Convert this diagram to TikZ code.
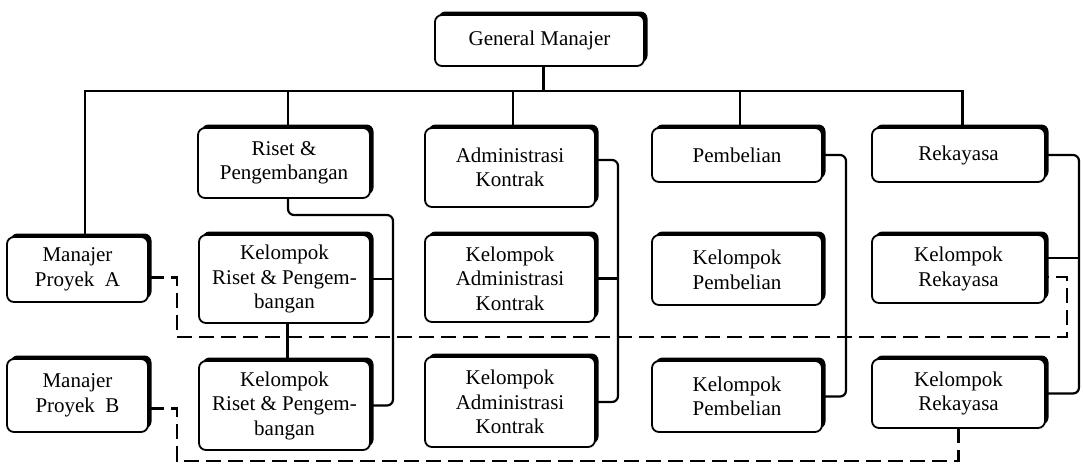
\documentclass[tikz,border=0pt]{standalone}
\usepackage{fontspec}
\setmainfont{Liberation Serif}
\usetikzlibrary{shadows,calc}
\begin{document}
\begin{tikzpicture}[x=1pt,y=-1pt,
  box/.style={draw=black, line width=1.8pt, fill=white, rounded corners=7pt,
    general shadow={fill=black, shadow xshift=3.5pt, shadow yshift=3.5pt},
    align=center, inner sep=0pt, font=\fontsize{21}{24.5}\selectfont},
  ln/.style={line width=2.2pt},
  conn/.style={line width=2.2pt, rounded corners=6pt},
  dashconn/.style={line width=2.2pt, dash pattern=on 15pt off 7pt}]
\useasboundingbox (0,0) rectangle (1083,464);
% boxes
\node[box, minimum width=209pt, minimum height=51pt] (gm) at (539.5,40.5) {General Manajer};
\node[box, minimum width=172pt, minimum height=70pt] (riset) at (284,163) {Riset \&\\Pengembangan};
\node[box, minimum width=170pt, minimum height=79pt] (admin) at (510,167.5) {Administrasi\\Kontrak};
\node[box, minimum width=170pt, minimum height=54pt] (pemb) at (737,155) {Pembelian};
\node[box, minimum width=173pt, minimum height=54pt] (reka) at (958.5,155) {Rekayasa};
\node[box, minimum width=141pt, minimum height=65pt] (mpa) at (77.5,269.5) {Manajer\\Proyek~ A};
\node[box, minimum width=141pt, minimum height=73pt] (mpb) at (77.5,395.5) {Manajer\\Proyek~ B};
\node[box, minimum width=171pt, minimum height=88pt] (kra) at (284.5,279) {Kelompok\\Riset \& Pengem-\\bangan};
\node[box, minimum width=171pt, minimum height=89pt] (krb) at (284.5,405.5) {Kelompok\\Riset \& Pengem-\\bangan};
\node[box, minimum width=170pt, minimum height=87pt] (kaa) at (510,278.5) {Kelompok\\Administrasi\\Kontrak};
\node[box, minimum width=170pt, minimum height=90pt] (kab) at (510,402) {Kelompok\\Administrasi\\Kontrak};
\node[box, minimum width=170pt, minimum height=70pt] (kpa) at (737,270) {Kelompok\\Pembelian};
\node[box, minimum width=170pt, minimum height=71pt] (kpb) at (737,396.5) {Kelompok\\Pembelian};
\node[box, minimum width=173pt, minimum height=68pt] (kka) at (958.5,269) {Kelompok\\Rekayasa};
\node[box, minimum width=173pt, minimum height=69pt] (kkb) at (958.5,393.5) {Kelompok\\Rekayasa};
% coordinates
\coordinate (bus) at (85,91);
\coordinate (gmv) at ($(gm.south)+(4,0)$);
\coordinate (rv) at ($(riset.north)+(4,0)$);
\coordinate (rs) at ($(riset.south)+(4,0)$);
\coordinate (av) at ($(admin.north)+(3,0)$);
\coordinate (pv) at ($(pemb.north)+(3,0)$);
\coordinate (kv) at ($(reka.north)+(4,0)$);
\coordinate (kras) at ($(kra.south)+(3,0)$);
\coordinate (rc) at (393,215);
\coordinate (ac) at (618,160);
\coordinate (pc) at (846,155);
\coordinate (kc) at (1079,155);
\coordinate (kkab) at ($(kka.east)+(0,-11)$);
\coordinate (kkad) at ($(kka.east)+(0,8)$);
\coordinate (mpad) at ($(mpa.east)+(0,8)$);
\coordinate (mpbd) at ($(mpb.east)+(0,13)$);
\coordinate (da1) at (177,337);
\coordinate (da2) at (1067,337);
\coordinate (db1) at (177,461);
% tree lines
\draw[ln] (gmv) -- (gmv |- bus);
\draw[ln] (mpa.north -| bus) -- (bus) -- (kv |- bus) -- (kv);
\draw[ln] (rv |- bus) -- (rv);
\draw[ln] (av |- bus) -- (av);
\draw[ln] (pv |- bus) -- (pv);
% functional lines
\draw[conn] (rs) |- (rc) |- (krb.east);
\draw[ln] (kra.east) -- (kra.east -| rc);
\draw[ln] (kras) -- (kras |- krb.north);
\draw[conn] (admin.east |- ac) -- (ac) |- (kab.east);
\draw[ln] (kaa.east) -- (kaa.east -| ac);
\draw[conn] (pemb.east |- pc) -- (pc) |- (kpb.east);
\draw[conn] (reka.east |- kc) -- (kc) |- (kkb.east);
\draw[ln] (kkab) -- (kkab -| kc);
% project lines
\draw[dashconn] (mpad) -| (da1) -- (da2) |- (kkad);
\draw[dashconn] (mpbd) -| (db1) -- (db1 -| kkb.south) -- (kkb.south);
\end{tikzpicture}
\end{document}
